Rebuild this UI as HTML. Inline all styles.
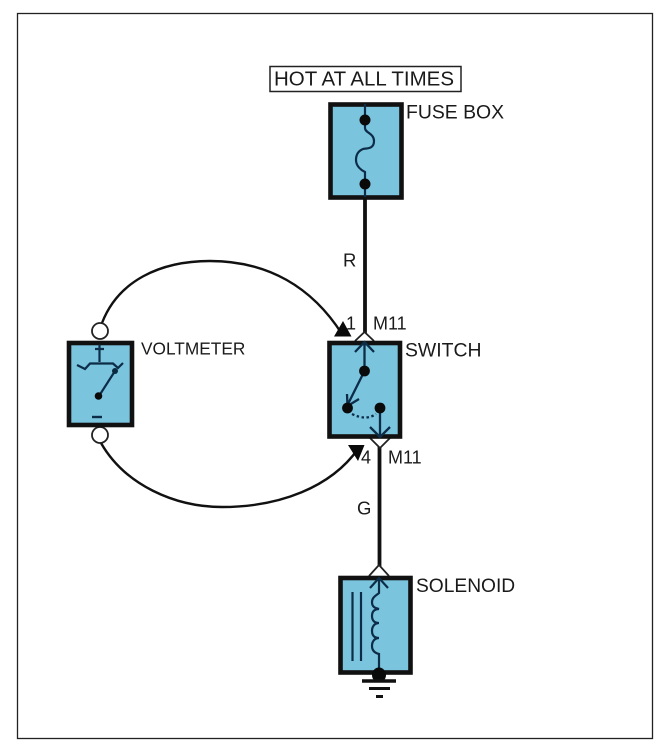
<!DOCTYPE html>
<html>
<head>
<meta charset="utf-8">
<style>
html,body{margin:0;padding:0;background:#fff}
svg{display:block}
text{font-family:"Liberation Sans",sans-serif;fill:#1a1a1a}
</style>
</head>
<body>
<svg width="666" height="754" viewBox="0 0 666 754" xmlns="http://www.w3.org/2000/svg">
<rect x="17.5" y="13.5" width="635" height="725" fill="#fff" stroke="#222" stroke-width="1.3"/>

<!-- hot label -->
<rect x="270" y="66.5" width="191" height="25" fill="#fff" stroke="#222" stroke-width="1.5"/>
<text x="274" y="85.5" font-size="20" textLength="180" lengthAdjust="spacingAndGlyphs">HOT AT ALL TIMES</text>

<!-- wires -->
<path d="M365 199V335" stroke="#111" stroke-width="3.8" fill="none"/>
<path d="M379.500 445V572" stroke="#111" stroke-width="3.8" fill="none"/>

<!-- fuse box -->
<rect x="330.500" y="104.500" width="71" height="93" fill="#7bc4de" stroke="#111" stroke-width="4.600"/>
<path d="M365 104V128C365 133 374 133 374 141C374 150 365 148 363 149C358 151 356 155 356 160C356 166 361 170 365 172V197" fill="none" stroke="#0c2c48" stroke-width="2.200"/>
<circle cx="365" cy="120" r="5.500" fill="#0a0a0a"/>
<circle cx="365" cy="184" r="5.500" fill="#0a0a0a"/>
<text x="406" y="118.500" font-size="19.400">FUSE BOX</text>
<text x="343" y="266.500" font-size="18.500">R</text>

<!-- switch -->
<path d="M355 341L364.500 332L374 341" fill="#fff" stroke="#222" stroke-width="1.800"/>
<path d="M370 438L380 448L390 438" fill="#fff" stroke="#222" stroke-width="1.800"/>
<rect x="329.500" y="343" width="70.500" height="93.500" fill="#7bc4de" stroke="#111" stroke-width="4.600"/>
<g fill="none" stroke="#0c2c48" stroke-width="2.300">
<path d="M364.500 342V371L347 406"/>
<path d="M355 352L364.500 342L374 352"/>
<path d="M347 394L347.500 406L359 399"/>
<path d="M380 408V437"/>
<path d="M370 427L380 437L390 427"/>
<path d="M352 414Q366 421 376 414" stroke-dasharray="2.500 2.500"/>
</g>
<circle cx="364.500" cy="371" r="5.400" fill="#0a0a0a"/>
<circle cx="347.500" cy="408" r="5.400" fill="#0a0a0a"/>
<circle cx="380" cy="408" r="5.400" fill="#0a0a0a"/>
<text x="405" y="356.500" font-size="19.400">SWITCH</text>
<text x="373" y="329.500" font-size="18">M11</text>
<text x="388" y="463.500" font-size="18">M11</text>
<text x="346" y="329.500" font-size="18">1</text>
<text x="361" y="463.500" font-size="18">4</text>
<text x="357" y="514.500" font-size="18.500">G</text>

<!-- voltmeter -->
<path d="M102 323C118 281 160 261 210 261C268 261 312 287 342 334" fill="none" stroke="#111" stroke-width="2.400"/>
<path d="M101 443C125 485 175 507 222 507C280 507 331 487 358 449" fill="none" stroke="#111" stroke-width="2.400"/>
<path d="M343 321L351.500 336.500L334 336.500Z" fill="#0a0a0a"/>
<path d="M348 445L364.500 445L358 461Z" fill="#0a0a0a"/>
<circle cx="100" cy="331" r="8" fill="#fff" stroke="#222" stroke-width="1.800"/>
<circle cx="100" cy="435" r="8" fill="#fff" stroke="#222" stroke-width="1.800"/>
<rect x="69" y="343" width="63" height="82" fill="#7bc4de" stroke="#111" stroke-width="4.600"/>
<g fill="none" stroke="#0c2c48" stroke-width="2.200">
<path d="M95 349H104M99.500 344.500V362"/>
<path d="M77 365L85 369L90 363.500H113L118 368L123 363"/>
<path d="M115 371L99 396"/>
<path d="M92 417H102" stroke-width="2.400"/>
</g>
<circle cx="98.500" cy="396" r="3.800" fill="#0a0a0a"/>
<circle cx="115" cy="371" r="3" fill="#0a2a40"/>
<text x="141" y="354.500" font-size="17.300">VOLTMETER</text>

<!-- solenoid -->
<path d="M369 576L379 565L389 576" fill="#fff" stroke="#222" stroke-width="1.800"/>
<rect x="340.500" y="578" width="70" height="94.500" fill="#7bc4de" stroke="#111" stroke-width="4.600"/>
<g fill="none" stroke="#0c2c48" stroke-width="2.200">
<path d="M379 578V593C377 595 372 597 372 602C372 607 375 608 379 609C375 609 372 611 372 616C372 621 375 623 379 623C375 623 372 626 372 631C372 636 375 638 379 638C375 638 372 641 372 646C372 651 375 653 379 654V668"/>
<path d="M370 588L379 578L388 588"/>
<path d="M352.500 592V661"/>
<path d="M361 592V661"/>
</g>
<ellipse cx="379" cy="675" rx="7" ry="7.500" fill="#0a0a0a"/>
<path d="M362 681H396" stroke="#111" stroke-width="3.400"/>
<path d="M369 688.500H390" stroke="#111" stroke-width="3"/>
<path d="M376 696.500H383" stroke="#111" stroke-width="3"/>
<text x="416" y="592" font-size="19.200">SOLENOID</text>
</svg>
</body>
</html>
